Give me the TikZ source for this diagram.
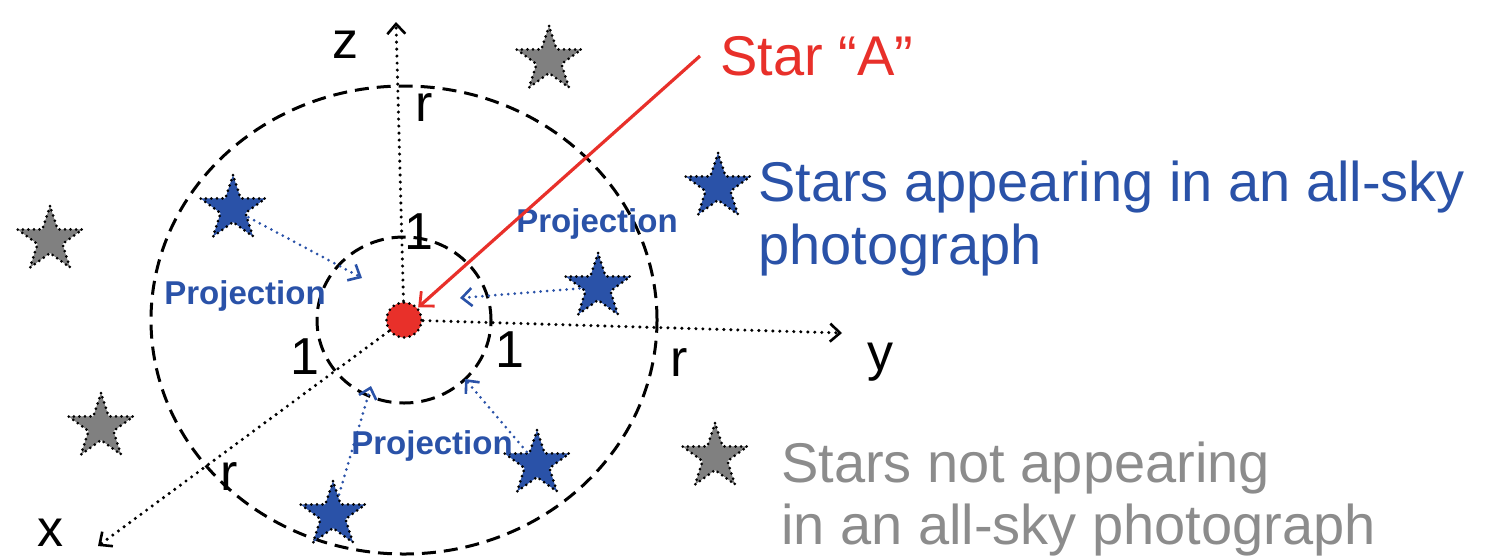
\documentclass[tikz,border=0pt]{standalone}
\usepackage{fontspec}
\setmainfont{Liberation Sans}
\usetikzlibrary{shapes.geometric,arrows.meta}
\definecolor{skyblue}{HTML}{2A52A8}
\definecolor{stargray}{HTML}{808080}
\definecolor{txtgray}{HTML}{8C8C8C}
\definecolor{starred}{HTML}{E8302A}
\begin{document}
\begin{tikzpicture}[x=1pt,y=-1pt,
  every node/.style={inner sep=0pt},
  dotline/.style={line width=3.4pt,dash pattern=on 0pt off 7pt,line cap=round},
  axis/.style={dotline,-{Straight Barb[length=10pt,width=18pt,line width=2.6pt]}},
  ring/.style={line width=3pt,dash pattern=on 14pt off 8pt},
  skystar/.style={star,star points=5,star point ratio=2.6,minimum size=68pt,
    draw=black,line width=3pt,dash pattern=on 0pt off 5.5pt,line cap=round},
  bluestar/.style={skystar,fill=skyblue},
  graystar/.style={skystar,fill=stargray},
  proj/.style={skyblue,line width=3pt,dash pattern=on 0pt off 6.5pt,line cap=round,
    -{Straight Barb[length=10pt,width=18pt,line width=2.6pt]}},
  projtxt/.style={skyblue,font=\fontsize{33}{36}\selectfont\bfseries},
  lbl/.style={font=\fontsize{52}{56}\selectfont}]
\useasboundingbox (0,0) rectangle (1503,558);
% sphere of radius r and unit sphere
\coordinate (O) at (404,320);
\draw[ring] (O) ellipse [x radius=253pt,y radius=234pt];
\draw[ring] (O) ellipse [x radius=87pt,y radius=83pt];
% observer
\node[circle,minimum size=35pt,fill=starred,draw=black,line width=3pt,
  dash pattern=on 0pt off 5.5pt,line cap=round] (A) at (O) {};
% axes
\coordinate (ztip) at (396,22);
\coordinate (ytip) at (842,333);
\coordinate (xtip) at (98,546);
\draw[axis] (A) -- (ztip);
\draw[axis] (A) -- (ytip);
\draw[axis] (A) -- (xtip);
\node[lbl] (zl) at (345,45) {z};
\node[lbl] (yl) at (880,362) {y};
\node[lbl] (xl) at (50,533) {x};
\node[lbl] (rz) at (424,108) {r};
\node[lbl] (ry) at (679,362) {r};
\node[lbl] (rx) at (229,476) {r};
\node[lbl] (oz) at (419,232) {1};
\node[lbl] (oy) at (510,350) {1};
\node[lbl] (ox) at (305,357) {1};
% stars
\node[bluestar] (b1) at (233,209) {};
\node[bluestar] (b2) at (598,287) {};
\node[bluestar] (b3) at (537,464) {};
\node[bluestar] (b4) at (333,515) {};
\node[graystar] (g1) at (50,240) {};
\node[graystar] (g2) at (549,60) {};
\node[graystar] (g3) at (101,427) {};
% projections
\coordinate (p1) at (362,278);
\coordinate (p2) at (460,298);
\coordinate (p3) at (371,386);
\coordinate (p4) at (465,379);
\draw[proj] (b1) -- (p1);
\draw[proj] (b2) -- (p2);
\draw[proj] (b4) -- (p3);
\draw[proj] (b3) -- (p4);
\node[projtxt] (t1) at (245,296) {Projection};
\node[projtxt] (t2) at (597,224) {Projection};
\node[projtxt] (t3) at (432,446) {Projection};
% star A
\node[starred,anchor=base west,font=\fontsize{56}{62}\selectfont] (sa) at (720,75) {Star “A”};
\coordinate (atail) at (700,56);
\draw[starred,line width=3.2pt,-{Straight Barb[length=11pt,width=20pt,line width=2.8pt]}] (atail) -- (A);
% legend
\node[bluestar] (lb) at (718,187) {};
\node[skyblue,anchor=north west,align=left,font=\fontsize{56}{63}\selectfont] (lbt) at (758,161)
  {Stars appearing in an all-sky\\photograph};
\node[graystar] (lg) at (715,457) {};
\node[txtgray,anchor=north west,align=left,font=\fontsize{56}{62}\selectfont] (lgt) at (781,442)
  {Stars not appearing\\in an all-sky photograph};
\end{tikzpicture}
\end{document}
